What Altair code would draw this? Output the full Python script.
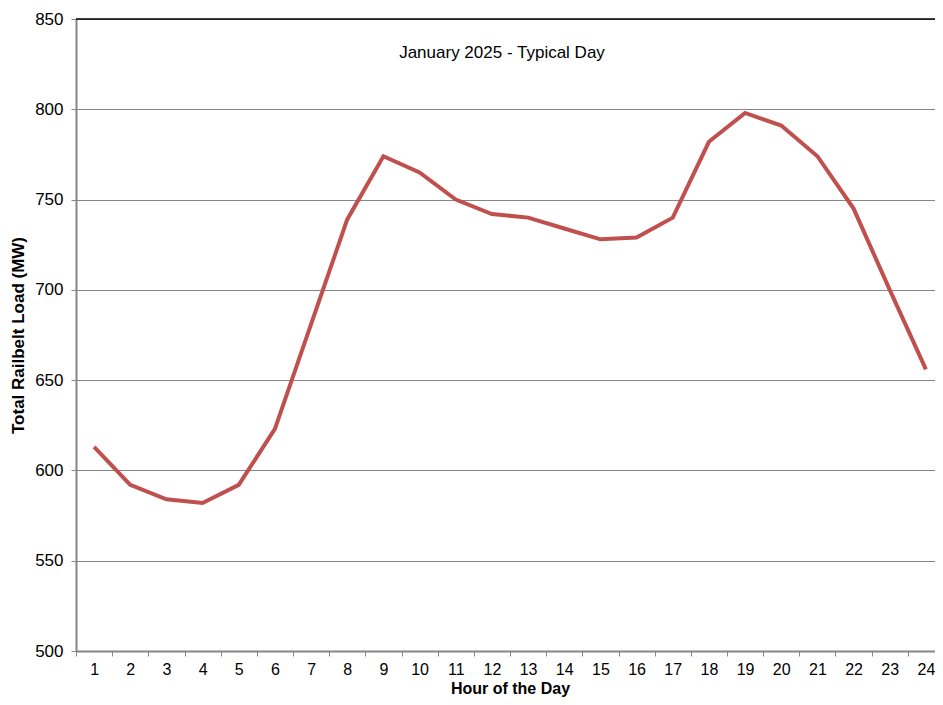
import altair as alt
import pandas as pd

hours = list(range(1, 25))
load_mw = [613, 592, 584, 582, 592, 623, 681, 739, 774, 765, 750, 742,
           740, 734, 728, 729, 740, 782, 798, 791, 774, 745, 700, 656]
y_ticks = [500, 550, 600, 650, 700, 750, 800, 850]
title_text = "January 2025 - Typical Day"

df = pd.DataFrame({"hour": hours, "load": load_mw})

FONT = "Liberation Sans"
W, H = 859, 632
X_RANGE = 868

x_enc = alt.X(
    "hour:O",
    sort=hours,
    scale=alt.Scale(range=[0, X_RANGE], paddingInner=0, paddingOuter=0),
    axis=alt.Axis(
        title="Hour of the Day",
        labelAngle=0,
        labelFont=FONT, labelFontSize=16, labelColor="#000000",
        labelPadding=5,
        titleFont=FONT, titleFontSize=16, titleFontWeight="bold",
        titleColor="#000000", titleBaseline="alphabetic", titleY=42,
        tickBand="extent", tickSize=5, tickColor="#868686", tickWidth=1,
        domainColor="#868686", domainWidth=2,
        grid=False,
    ),
)
y_scale = alt.Scale(domain=[500, 850], nice=False, zero=False)

line = alt.Chart(df).mark_line(color="#C0504D", strokeWidth=4, strokeJoin="miter").encode(
    x=x_enc,
    y=alt.Y(
        "load:Q",
        scale=y_scale,
        axis=alt.Axis(
            title="Total Railbelt Load (MW)",
            values=y_ticks,
            labelFont=FONT, labelFontSize=17, labelColor="#000000",
            labelPadding=8,
            titleFont=FONT, titleFontSize=17, titleFontWeight="bold",
            titleColor="#000000", titlePadding=7,
            tickSize=5, tickColor="#868686",
            domainColor="#868686", domainWidth=2,
            grid=True, gridColor="#868686", gridWidth=1,
        ),
    ),
)

top_df = pd.DataFrame({"v": [850]})
top_rule = alt.Chart(top_df).mark_rule(color="#000000", strokeWidth=1.5).encode(
    y=alt.Y("v:Q", scale=y_scale),
    x=alt.value(0),
    x2=alt.value(X_RANGE),
)

title_df = pd.DataFrame({"t": [title_text]})
title_mark = alt.Chart(title_df).mark_text(
    font=FONT, fontSize=17, color="#000000", align="center", baseline="middle"
).encode(
    text="t:N",
    x=alt.value(426),
    y=alt.value(34),
)

chart = alt.layer(top_rule, line, title_mark).properties(
    width=W,
    height=H,
    autosize=alt.AutoSizeParams(type="none"),
    padding={"left": 68, "top": 11, "right": 0, "bottom": 46},
).configure_view(stroke=None).configure(background="#ffffff")

chart.save("out.html", embed_options={"renderer": "svg", "actions": False})
